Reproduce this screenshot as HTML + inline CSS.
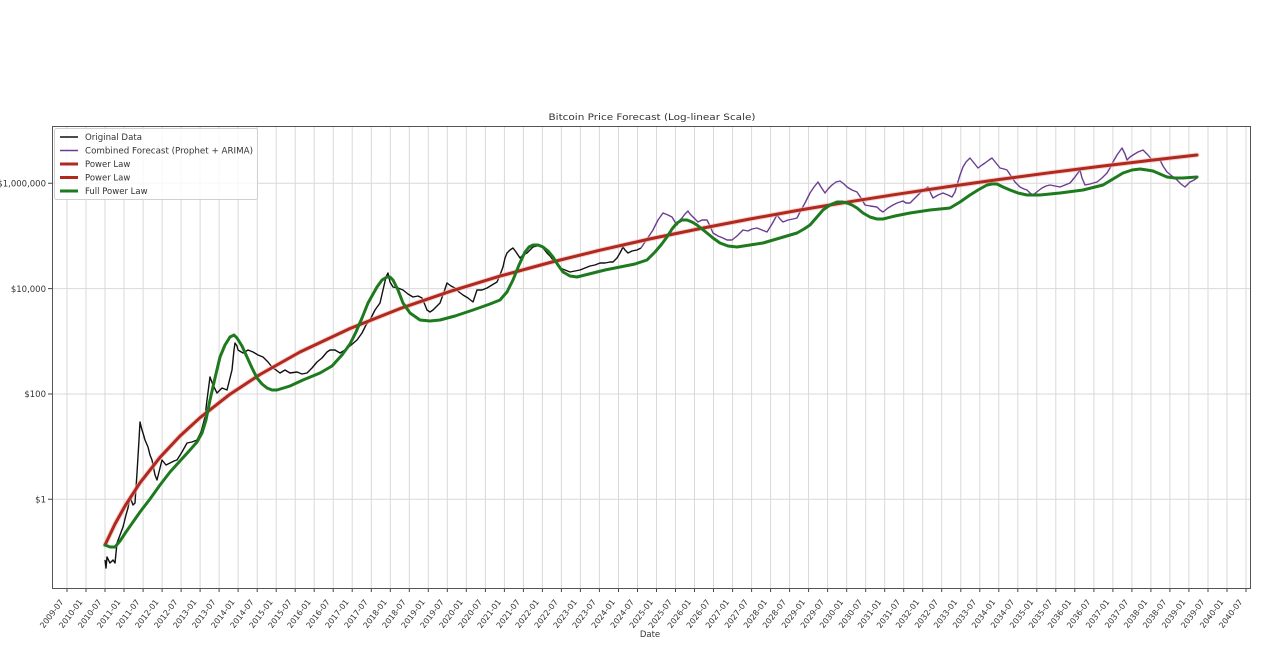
<!DOCTYPE html>
<html>
<head>
<meta charset="utf-8">
<style>
html,body{margin:0;padding:0;background:#fff;}
svg{display:block;}
text{font-family:"DejaVu Sans","Liberation Sans",sans-serif;fill:#333;}
</style>
</head>
<body>
<svg width="1280" height="670" viewBox="0 0 1280 670" xmlns="http://www.w3.org/2000/svg">
<rect x="0" y="0" width="1280" height="670" fill="#fff"/>

<text x="652" y="120" font-size="9" text-anchor="middle" textLength="207" lengthAdjust="spacingAndGlyphs">Bitcoin Price Forecast (Log-linear Scale)</text>

<path stroke="#d9d9d9" stroke-width="1" fill="none" d="M67,126V588M86,126V588M105,126V588M124,126V588M143.1,126V588M162.1,126V588M181.1,126V588M200.1,126V588M219.1,126V588M238.1,126V588M257.2,126V588M276.2,126V588M295.2,126V588M314.2,126V588M333.2,126V588M352.2,126V588M371.3,126V588M390.3,126V588M409.3,126V588M428.3,126V588M447.3,126V588M466.3,126V588M485.4,126V588M504.4,126V588M523.4,126V588M542.4,126V588M561.4,126V588M580.4,126V588M599.4,126V588M618.5,126V588M637.5,126V588M656.5,126V588M675.5,126V588M694.5,126V588M713.5,126V588M732.6,126V588M751.6,126V588M770.6,126V588M789.6,126V588M808.6,126V588M827.6,126V588M846.7,126V588M865.7,126V588M884.7,126V588M903.7,126V588M922.7,126V588M941.7,126V588M960.8,126V588M979.8,126V588M998.8,126V588M1017.8,126V588M1036.8,126V588M1055.8,126V588M1074.8,126V588M1093.9,126V588M1112.9,126V588M1131.9,126V588M1150.9,126V588M1169.9,126V588M1188.9,126V588M1208,126V588M1227,126V588M1246,126V588"/>
<path stroke="#d9d9d9" stroke-width="1" fill="none" d="M52,183.3H1250M52,288.6H1250M52,394H1250M52,499.3H1250"/>

<path stroke="#444" stroke-width="1" fill="none" d="M67,588v4M86,588v4M105,588v4M124,588v4M143.1,588v4M162.1,588v4M181.1,588v4M200.1,588v4M219.1,588v4M238.1,588v4M257.2,588v4M276.2,588v4M295.2,588v4M314.2,588v4M333.2,588v4M352.2,588v4M371.3,588v4M390.3,588v4M409.3,588v4M428.3,588v4M447.3,588v4M466.3,588v4M485.4,588v4M504.4,588v4M523.4,588v4M542.4,588v4M561.4,588v4M580.4,588v4M599.4,588v4M618.5,588v4M637.5,588v4M656.5,588v4M675.5,588v4M694.5,588v4M713.5,588v4M732.6,588v4M751.6,588v4M770.6,588v4M789.6,588v4M808.6,588v4M827.6,588v4M846.7,588v4M865.7,588v4M884.7,588v4M903.7,588v4M922.7,588v4M941.7,588v4M960.8,588v4M979.8,588v4M998.8,588v4M1017.8,588v4M1036.8,588v4M1055.8,588v4M1074.8,588v4M1093.9,588v4M1112.9,588v4M1131.9,588v4M1150.9,588v4M1169.9,588v4M1188.9,588v4M1208,588v4M1227,588v4M1246,588v4"/>
<path stroke="#444" stroke-width="1" fill="none" d="M48,183.3h4M48,288.6h4M48,394h4M48,499.3h4"/>

<g font-size="8.5" text-anchor="end">
<text x="46" y="186.5">$1,000,000</text>
<text x="46" y="291.8">$10,000</text>
<text x="46" y="397.2">$100</text>
<text x="46" y="502.5">$1</text>
</g>

<g font-size="8" text-anchor="end">
<text transform="translate(64,602) rotate(-53)">2009-07</text>
<text transform="translate(83,602) rotate(-53)">2010-01</text>
<text transform="translate(102,602) rotate(-53)">2010-07</text>
<text transform="translate(121,602) rotate(-53)">2011-01</text>
<text transform="translate(140.1,602) rotate(-53)">2011-07</text>
<text transform="translate(159.1,602) rotate(-53)">2012-01</text>
<text transform="translate(178.1,602) rotate(-53)">2012-07</text>
<text transform="translate(197.1,602) rotate(-53)">2013-01</text>
<text transform="translate(216.1,602) rotate(-53)">2013-07</text>
<text transform="translate(235.1,602) rotate(-53)">2014-01</text>
<text transform="translate(254.2,602) rotate(-53)">2014-07</text>
<text transform="translate(273.2,602) rotate(-53)">2015-01</text>
<text transform="translate(292.2,602) rotate(-53)">2015-07</text>
<text transform="translate(311.2,602) rotate(-53)">2016-01</text>
<text transform="translate(330.2,602) rotate(-53)">2016-07</text>
<text transform="translate(349.2,602) rotate(-53)">2017-01</text>
<text transform="translate(368.3,602) rotate(-53)">2017-07</text>
<text transform="translate(387.3,602) rotate(-53)">2018-01</text>
<text transform="translate(406.3,602) rotate(-53)">2018-07</text>
<text transform="translate(425.3,602) rotate(-53)">2019-01</text>
<text transform="translate(444.3,602) rotate(-53)">2019-07</text>
<text transform="translate(463.3,602) rotate(-53)">2020-01</text>
<text transform="translate(482.4,602) rotate(-53)">2020-07</text>
<text transform="translate(501.4,602) rotate(-53)">2021-01</text>
<text transform="translate(520.4,602) rotate(-53)">2021-07</text>
<text transform="translate(539.4,602) rotate(-53)">2022-01</text>
<text transform="translate(558.4,602) rotate(-53)">2022-07</text>
<text transform="translate(577.4,602) rotate(-53)">2023-01</text>
<text transform="translate(596.4,602) rotate(-53)">2023-07</text>
<text transform="translate(615.5,602) rotate(-53)">2024-01</text>
<text transform="translate(634.5,602) rotate(-53)">2024-07</text>
<text transform="translate(653.5,602) rotate(-53)">2025-01</text>
<text transform="translate(672.5,602) rotate(-53)">2025-07</text>
<text transform="translate(691.5,602) rotate(-53)">2026-01</text>
<text transform="translate(710.5,602) rotate(-53)">2026-07</text>
<text transform="translate(729.6,602) rotate(-53)">2027-01</text>
<text transform="translate(748.6,602) rotate(-53)">2027-07</text>
<text transform="translate(767.6,602) rotate(-53)">2028-01</text>
<text transform="translate(786.6,602) rotate(-53)">2028-07</text>
<text transform="translate(805.6,602) rotate(-53)">2029-01</text>
<text transform="translate(824.6,602) rotate(-53)">2029-07</text>
<text transform="translate(843.7,602) rotate(-53)">2030-01</text>
<text transform="translate(862.7,602) rotate(-53)">2030-07</text>
<text transform="translate(881.7,602) rotate(-53)">2031-01</text>
<text transform="translate(900.7,602) rotate(-53)">2031-07</text>
<text transform="translate(919.7,602) rotate(-53)">2032-01</text>
<text transform="translate(938.7,602) rotate(-53)">2032-07</text>
<text transform="translate(957.8,602) rotate(-53)">2033-01</text>
<text transform="translate(976.8,602) rotate(-53)">2033-07</text>
<text transform="translate(995.8,602) rotate(-53)">2034-01</text>
<text transform="translate(1014.8,602) rotate(-53)">2034-07</text>
<text transform="translate(1033.8,602) rotate(-53)">2035-01</text>
<text transform="translate(1052.8,602) rotate(-53)">2035-07</text>
<text transform="translate(1071.8,602) rotate(-53)">2036-01</text>
<text transform="translate(1090.9,602) rotate(-53)">2036-07</text>
<text transform="translate(1109.9,602) rotate(-53)">2037-01</text>
<text transform="translate(1128.9,602) rotate(-53)">2037-07</text>
<text transform="translate(1147.9,602) rotate(-53)">2038-01</text>
<text transform="translate(1166.9,602) rotate(-53)">2038-07</text>
<text transform="translate(1185.9,602) rotate(-53)">2039-01</text>
<text transform="translate(1205,602) rotate(-53)">2039-07</text>
<text transform="translate(1224,602) rotate(-53)">2040-01</text>
<text transform="translate(1243,602) rotate(-53)">2040-07</text>
</g>

<text x="650" y="637" font-size="8.5" text-anchor="middle">Date</text>

<polyline fill="none" stroke="#111" stroke-width="1.4" stroke-linejoin="round" points="105,560 106,568 107,557 110,563 113,560 115,563 117,543 120,535 123,527 126,515 128,508 130,497 133,505 135,503 137,473 139,440 140,422 142,430 143,433 145,440 148,447 150,455 152,460 155,475 157,480 160,468 162,460 166,465 170,463 174,461 177,460 182,452 187,443 192,442 197,440 201,432 205,417 207,400 210,377 213,385 217,393 222,388 227,390 230,378 232,370 234,350 235,343 237,346 238,350 243,353 248,350 253,352 258,355 263,357 268,362 272,367 276,370 280,373 285,370 290,373 297,372 302,374 307,373 312,368 317,362 322,358 327,352 330,350 335,350 340,353 345,350 350,346 357,340 362,333 366,325 370,320 375,310 380,303 383,290 386,277 388,273 390,282 393,287 398,288 403,290 408,294 413,297 418,296 422,298 425,305 427,310 430,312 433,310 437,306 440,303 444,292 447,283 451,286 455,288 459,292 463,295 468,298 473,302 475,296 477,290 482,290 487,288 492,285 497,282 500,275 503,267 505,258 507,253 510,250 513,248 516,252 520,258 523,255 527,253 530,250 533,247 537,246 540,245 543,248 547,253 550,256 553,260 557,264 560,268 565,270 570,272 575,271 580,270 585,268 590,266 595,265 600,263 605,263 610,262 613,262 617,258 620,253 623,247 625,250 628,253 632,251 637,250 641,248"/>

<polyline fill="none" stroke="#6b3d92" stroke-width="1.4" stroke-linejoin="round" points="641,248 645,242 649,236 653,230 658,220 663,213 668,215 672,217 675,222 677,225 680,220 682,218 685,214 688,211 690,214 693,217 698,222 702,220 707,220 710,226 713,233 718,236 723,238 727,240 732,240 737,236 743,230 748,231 752,229 757,228 762,230 767,232 772,224 777,215 780,219 783,222 788,220 793,219 797,218 800,212 805,203 810,193 814,187 818,182 821,187 825,193 828,189 832,185 836,182 840,181 844,184 847,187 852,190 857,192 861,198 865,205 870,206 877,207 880,210 883,212 888,208 893,205 897,203 903,201 906,203 910,203 915,198 920,193 925,189 928,187 931,194 933,198 938,195 943,193 948,195 952,197 955,192 957,185 960,175 963,167 966,162 970,158 974,163 978,168 982,165 985,163 989,160 992,158 996,163 1000,168 1004,169 1007,170 1011,176 1015,182 1020,187 1024,189 1027,190 1030,193 1033,195 1038,191 1042,188 1046,186 1050,185 1055,186 1060,187 1065,185 1070,183 1075,177 1080,170 1082,178 1085,185 1090,184 1097,182 1102,178 1107,173 1110,168 1113,162 1117,155 1122,148 1125,154 1127,160 1130,157 1133,155 1138,152 1143,150 1148,155 1152,160 1156,160 1160,160 1163,166 1167,172 1172,176 1177,180 1181,184 1185,187 1188,184 1190,182 1194,180 1197,178"/>

<polyline fill="none" stroke="#f3b5b0" stroke-width="5" stroke-linejoin="round" stroke-linecap="round" opacity="0.6" points="105,545 115,524 125,506 140,482.8 160,457.3 180,436 200,417.7 230,394.2 260,374.5 300,352 350,328.5 400,308.6 450,291.4 500,276.1 550,262.5 600,250.2 650,238.9 700,228.6 750,219 800,210 850,201.7 900,193.8 950,186.4 1000,179.4 1050,172.7 1100,166.4 1150,160.4 1197,155"/>
<polyline fill="none" stroke="#b0291f" stroke-width="3" stroke-linejoin="round" stroke-linecap="round" points="105,545 115,524 125,506 140,482.8 160,457.3 180,436 200,417.7 230,394.2 260,374.5 300,352 350,328.5 400,308.6 450,291.4 500,276.1 550,262.5 600,250.2 650,238.9 700,228.6 750,219 800,210 850,201.7 900,193.8 950,186.4 1000,179.4 1050,172.7 1100,166.4 1150,160.4 1197,155"/>

<polyline fill="none" stroke="#1e7a1e" stroke-width="3" stroke-linejoin="round" stroke-linecap="round" points="105,545 110,547 115,547 120,541 126,532 133,522 140,512 150,499 160,485 170,472 180,461 190,450 197,442 202,433 206,420 210,400 215,378 220,357 225,345 230,337 234,335 237,338 242,346 247,357 252,368 257,378 262,384 267,388 272,390 277,390 290,386 303,380 320,373 332,366 342,355 350,344 356,332 362,318 368,303 377,287 382,280 387,277 390,277 393,280 398,290 403,303 410,313 420,320 430,321 440,320 455,316 473,310 490,304 500,300 507,292 513,280 519,265 525,252 529,247 533,245 538,245 543,247 548,251 553,257 558,265 563,272 570,276 577,277 585,275 593,273 605,270 620,267 635,264 647,260 655,252 661,245 667,237 672,229 677,223 682,220 687,220 692,222 697,225 702,229 707,233 713,238 720,243 728,246 737,247 750,245 763,243 780,238 797,233 804,229 810,225 817,217 823,210 830,205 837,202 842,202 847,203 852,205 857,208 863,213 870,217 877,219 883,219 895,216 910,213 930,210 950,208 960,202 970,195 978,190 987,185 992,184 997,184 1003,187 1010,190 1018,193 1027,195 1040,195 1060,193 1083,190 1095,187 1103,185 1113,179 1123,173 1132,170 1140,169 1147,170 1153,171 1160,174 1167,177 1175,178 1183,178 1197,177"/>

<rect x="54.5" y="128.5" width="203" height="71" fill="#fff" fill-opacity="0.8" stroke="#d0d0d0" stroke-width="1" rx="2"/>
<g stroke-linecap="butt">
<line x1="60" y1="137" x2="78" y2="137" stroke="#111" stroke-width="1.6"/>
<line x1="60" y1="150.5" x2="78" y2="150.5" stroke="#6b3d92" stroke-width="1.6"/>
<line x1="60" y1="164" x2="78" y2="164" stroke="#b0291f" stroke-width="3"/>
<line x1="60" y1="177.5" x2="78" y2="177.5" stroke="#b0291f" stroke-width="3"/>
<line x1="60" y1="191" x2="78" y2="191" stroke="#1e7a1e" stroke-width="3"/>
</g>
<g font-size="8.5">
<text x="85" y="140" textLength="57" lengthAdjust="spacingAndGlyphs">Original Data</text>
<text x="85" y="153.5" textLength="168" lengthAdjust="spacingAndGlyphs">Combined Forecast (Prophet + ARIMA)</text>
<text x="85" y="167">Power Law</text>
<text x="85" y="180.5">Power Law</text>
<text x="85" y="194">Full Power Law</text>
</g>

<rect x="52.5" y="126.5" width="1198" height="462" fill="none" stroke="#555" stroke-width="1"/>
</svg>
</body>
</html>
